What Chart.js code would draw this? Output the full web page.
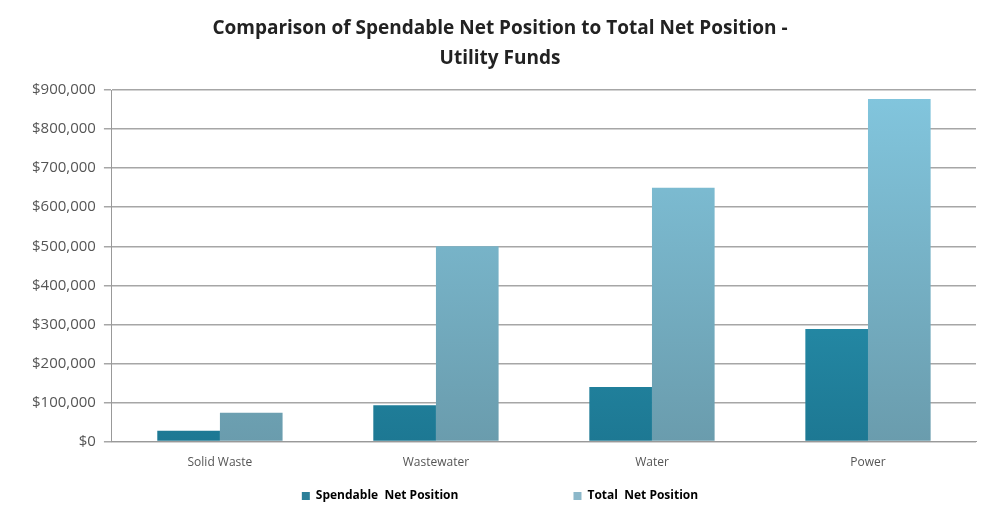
<!DOCTYPE html>
<html>
<head>
<meta charset="utf-8">
<script src="https://cdn.jsdelivr.net/npm/chart.js@4"></script>
<style>
  html, body { margin: 0; padding: 0; background: #ffffff; }
  #wrap { width: 992px; height: 512px; }
</style>
</head>
<body>
<div id="wrap"><canvas id="myChart" width="992" height="512"></canvas></div>
<script>
const categories = ['Solid Waste', 'Wastewater', 'Water', 'Power'];
const spendable = [28000, 93000, 140000, 288000];
const totalNet = [74000, 500000, 650000, 877000];
const seriesNames = ['Spendable  Net Position', 'Total  Net Position'];
const titleLines = ['Comparison of Spendable Net Position to Total Net Position -', 'Utility Funds'];

// vertical gradient for each series, like the old Excel bars
function barGradient(top, bottom) {
    return (context) => {
        const chart = context.chart;
        const area = chart.chartArea;
        if (!area) return bottom;
        const g = chart.ctx.createLinearGradient(0, area.top, 0, area.bottom);
        g.addColorStop(0, top);
        g.addColorStop(1, bottom);
        return g;
    };
}

// wide gap between the two legend entries
const legendGap = '\u00a0'.repeat(35);

const ctx = document.getElementById('myChart').getContext('2d');
const myChart = new Chart(ctx, {
    type: 'bar',
    data: {
        labels: categories,
        datasets: [
            {
                label: seriesNames[0],
                data: spendable,
                backgroundColor: barGradient('#30a6c4', '#1d7893'),
                categoryPercentage: 0.58,
                barPercentage: 1.0
            },
            {
                label: seriesNames[1],
                data: totalNet,
                backgroundColor: barGradient('#82c6de', '#6a9cad'),
                categoryPercentage: 0.58,
                barPercentage: 1.0
            }
        ]
    },
    options: {
        responsive: false,
        animation: false,
        layout: {
            padding: { left: 24, right: 16, top: 2, bottom: 0 }
        },
        scales: {
            x: {
                grid: { display: false, drawTicks: false },
                border: { color: '#999999', width: 1 },
                ticks: {
                    color: '#555555',
                    padding: 14,
                    font: { family: 'Open Sans', size: 12 }
                }
            },
            y: {
                min: 0,
                max: 900000,
                grid: {
                    color: '#a6a6a6',
                    lineWidth: 1.5,
                    tickLength: 8
                },
                border: { color: '#999999', width: 1 },
                ticks: {
                    stepSize: 100000,
                    color: '#555555',
                    padding: 8,
                    font: { family: 'Open Sans', size: 15 },
                    callback: (v) => '$' + v.toLocaleString('en-US')
                }
            }
        },
        plugins: {
            title: {
                display: true,
                text: titleLines,
                color: '#222222',
                font: { family: 'Open Sans', size: 19, weight: 'bold', lineHeight: 1.58 },
                padding: { top: 12, bottom: 16 }
            },
            legend: {
                position: 'bottom',
                labels: {
                    color: '#333333',
                    boxWidth: 8,
                    boxHeight: 8,
                    padding: 6,
                    font: { family: 'Open Sans', size: 12, weight: 'bold' },
                    generateLabels: (chart) => [
                        { text: seriesNames[0] + legendGap, fillStyle: '#2b7f99', strokeStyle: '#2b7f99', lineWidth: 0, datasetIndex: 0 },
                        { text: seriesNames[1], fillStyle: '#8cb8ca', strokeStyle: '#8cb8ca', lineWidth: 0, datasetIndex: 1 }
                    ]
                }
            },
            tooltip: { enabled: false }
        }
    }
});
</script>
</body>
</html>
